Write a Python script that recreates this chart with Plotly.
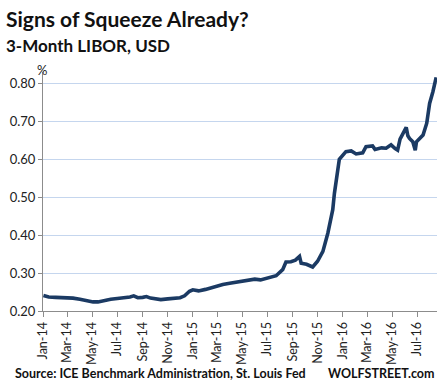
import plotly.graph_objects as go

dates = [
    "2014-01-02", "2014-01-15", "2014-02-01", "2014-02-15", "2014-03-01", "2014-03-15",
    "2014-04-01", "2014-04-15", "2014-05-03", "2014-05-15", "2014-06-01", "2014-06-15",
    "2014-07-01", "2014-07-15", "2014-08-01", "2014-08-10", "2014-08-20", "2014-09-01",
    "2014-09-10", "2014-09-20", "2014-10-01", "2014-10-15", "2014-11-01", "2014-11-15",
    "2014-12-01", "2014-12-12", "2014-12-24", "2015-01-01", "2015-01-15", "2015-02-01",
    "2015-02-15", "2015-03-01", "2015-03-15", "2015-04-01", "2015-04-15", "2015-05-01",
    "2015-05-15", "2015-06-01", "2015-06-15", "2015-07-01", "2015-07-15", "2015-07-23",
    "2015-08-08", "2015-08-16", "2015-08-28", "2015-09-08", "2015-09-18", "2015-09-22",
    "2015-10-05", "2015-10-20", "2015-11-01", "2015-11-14", "2015-11-26", "2015-12-08",
    "2015-12-12", "2015-12-20", "2015-12-24", "2016-01-09", "2016-01-22", "2016-02-03",
    "2016-02-19", "2016-02-27", "2016-03-14", "2016-03-20", "2016-04-05", "2016-04-16",
    "2016-04-28", "2016-05-08", "2016-05-14", "2016-05-20", "2016-05-27", "2016-06-04",
    "2016-06-08", "2016-06-12", "2016-06-20", "2016-06-26", "2016-06-29", "2016-07-08",
    "2016-07-15", "2016-07-24", "2016-07-31", "2016-08-08", "2016-08-16",
]
libor = [
    0.241, 0.237, 0.236, 0.236, 0.235, 0.234,
    0.231, 0.227, 0.224, 0.224, 0.229, 0.231,
    0.233, 0.234, 0.237, 0.240, 0.235, 0.236,
    0.238, 0.234, 0.233, 0.230, 0.232, 0.234,
    0.235, 0.240, 0.252, 0.256, 0.253, 0.257,
    0.262, 0.265, 0.270, 0.273, 0.276, 0.278,
    0.281, 0.284, 0.282, 0.286, 0.290, 0.293,
    0.309, 0.329, 0.330, 0.334, 0.344, 0.326,
    0.323, 0.316, 0.331, 0.357, 0.405, 0.467,
    0.510, 0.580, 0.600, 0.620, 0.622, 0.614,
    0.617, 0.633, 0.635, 0.626, 0.630, 0.629,
    0.638, 0.628, 0.624, 0.653, 0.668, 0.684,
    0.662, 0.655, 0.646, 0.624, 0.646, 0.655,
    0.664, 0.695, 0.747, 0.778, 0.816,
]

tick_vals = ["2014-01-01", "2014-03-01", "2014-05-01", "2014-07-01", "2014-09-01",
             "2014-11-01", "2015-01-01", "2015-03-01", "2015-05-01", "2015-07-01",
             "2015-09-01", "2015-11-01", "2016-01-01", "2016-03-01", "2016-05-01",
             "2016-07-01"]
tick_text = ["Jan-14", "Mar-14", "May-14", "Jul-14", "Sep-14", "Nov-14", "Jan-15",
             "Mar-15", "May-15", "Jul-15", "Sep-15", "Nov-15", "Jan-16", "Mar-16",
             "May-16", "Jul-16"]
y_ticks = [0.20, 0.30, 0.40, 0.50, 0.60, 0.70, 0.80]

FONT = "Lato"
W, H = 443, 388
L, R, T, B = 43, 6, 72, 77

fig = go.Figure()
fig.add_trace(go.Scatter(
    x=dates, y=libor, mode="lines",
    line=dict(color="#1b3a63", width=3.6, shape="linear"),
    hoverinfo="skip", showlegend=False,
))

fig.update_layout(
    width=W, height=H,
    margin=dict(l=L, r=R, t=T, b=B, autoexpand=False),
    paper_bgcolor="white", plot_bgcolor="white",
    font=dict(family=FONT, size=13, color="#222222"),
    xaxis=dict(
        range=["2014-01-01", "2016-08-18"],
        tickvals=tick_vals, ticktext=tick_text, tickangle=-90,
        showgrid=False, showline=True, linecolor="#8c8c8c", linewidth=1,
        ticks="outside", ticklen=5, tickcolor="#8c8c8c",
        tickfont=dict(family=FONT, size=12.5, color="#222222"),
        zeroline=False, fixedrange=True, automargin=False,
    ),
    yaxis=dict(
        range=[0.2, 0.83],
        tickvals=y_ticks, tickformat=".2f",
        showgrid=True, gridcolor="#c5d6ee", gridwidth=1,
        showline=True, linecolor="#8c8c8c", linewidth=1,
        ticks="outside", ticklen=4, tickcolor="#8c8c8c",
        tickfont=dict(family=FONT, size=13, color="#222222"),
        zeroline=False, fixedrange=True, automargin=False,
    ),
)

def px_ann(text, x, y, size, xanchor="left", yanchor="middle", color="#111111"):
    # x, y are page pixel positions from the top-left corner
    fig.add_annotation(
        text=text, x=(x - L) / (W - L - R), y=((H - y) - B) / (H - T - B),
        xref="paper", yref="paper", showarrow=False,
        xanchor=xanchor, yanchor=yanchor,
        font=dict(family=FONT, size=size, color=color),
    )

px_ann("<b>Signs of Squeeze Already?</b>", 4, 19, 21)
px_ann("<b>3-Month LIBOR, USD</b>", 4, 45, 17)
px_ann("%", 42, 70, 13, xanchor="center", color="#222222")
px_ann("<b>Source: ICE Benchmark Administration, St. Louis Fed</b>", 13, 373, 12.5)
px_ann("<b>WOLFSTREET.com</b>", 437, 373, 12.5, xanchor="right")

fig.write_html("out.html", config={"displayModeBar": False},
               post_script="document.body.style.margin='0';document.body.style.overflow='hidden';")
